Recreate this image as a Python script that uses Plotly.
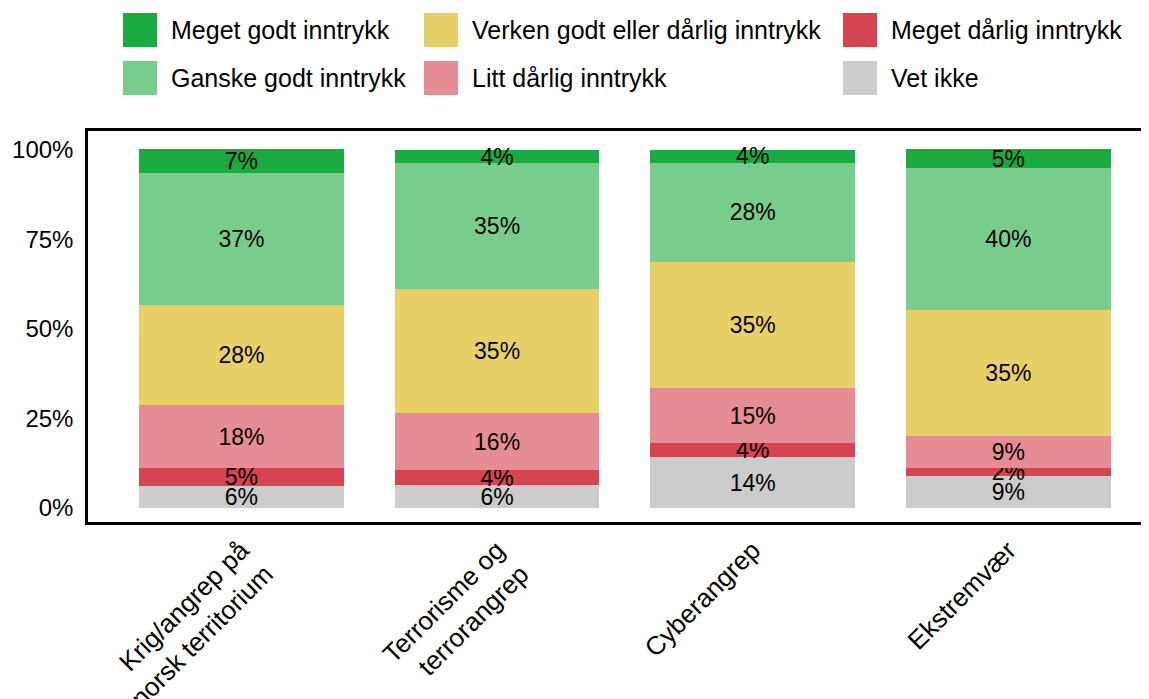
import plotly.graph_objects as go

# categories on the x axis
categories = [
    "Krig/angrep på<br>norsk territorium",
    "Terrorisme og<br>terrorangrep",
    "Cyberangrep",
    "Ekstremvær",
]

# shares in percent, one list per answer (bottom of the stack first)
vet_ikke = [6.1, 6.4, 14.2, 8.9]
meget_darlig = [5.0, 4.2, 3.9, 2.3]
litt_darlig = [17.6, 15.9, 15.4, 8.9]
verken = [28.0, 34.6, 35.2, 35.2]
ganske_godt = [36.9, 35.2, 27.7, 39.6]
meget_godt = [6.7, 3.7, 3.6, 5.3]

y_ticks = [0, 25, 50, 75, 100]
y_tick_labels = ["0%", "25%", "50%", "75%", "100%"]

# stack order, bottom to top
series = [
    ("Vet ikke", vet_ikke, "#CCCCCC"),
    ("Meget dårlig inntrykk", meget_darlig, "#D64452"),
    ("Litt dårlig inntrykk", litt_darlig, "#E68C95"),
    ("Verken godt eller dårlig inntrykk", verken, "#E8D068"),
    ("Ganske godt inntrykk", ganske_godt, "#78CD8D"),
    ("Meget godt inntrykk", meget_godt, "#1AAB40"),
]

# legend layout, read row by row
legend_rows = [
    ["Meget godt inntrykk", "Verken godt eller dårlig inntrykk", "Meget dårlig inntrykk"],
    ["Ganske godt inntrykk", "Litt dårlig inntrykk", "Vet ikke"],
]

FONT = "Liberation Sans, Arial, sans-serif"
OFF = 8  # page margin around the plot div
W, H = 1149 - OFF, 699 - OFF
M_L, M_T, M_B = 88 - OFF, 131 - OFF, 177
PLOT_W = W - M_L
PLOT_H = H - M_T - M_B

fig = go.Figure()
for name, vals, color in series:
    fig.add_trace(
        go.Bar(
            x=categories,
            y=vals,
            name=name,
            marker=dict(color=color, line=dict(width=0)),
            width=0.8,
            texttemplate="%{y:.0f}%",
            textposition="inside",
            insidetextanchor="middle",
            textangle=0,
            constraintext="none",
            textfont=dict(family=FONT, size=23, color="black"),
            showlegend=False,
        )
    )


# screen pixel -> paper coordinates
def px_x(px):
    return (px - OFF - M_L) / PLOT_W


def px_y(py):
    return (H - M_B - (py - OFF)) / PLOT_H


# hand-built legend with big square swatches
colors = {name: color for name, _, color in series}
col_swatch_x = [123, 424, 843]
col_text_x = [171, 472, 891]
row_top = [13, 61]
SW = 34
shapes = []
annotations = []
for r, row in enumerate(legend_rows):
    for c, name in enumerate(row):
        shapes.append(
            dict(
                type="rect",
                xref="paper",
                yref="paper",
                x0=px_x(col_swatch_x[c]),
                x1=px_x(col_swatch_x[c] + SW),
                y0=px_y(row_top[r] + SW),
                y1=px_y(row_top[r]),
                fillcolor=colors[name],
                line=dict(width=0),
            )
        )
        annotations.append(
            dict(
                xref="paper",
                yref="paper",
                x=px_x(col_text_x[c] - 2),
                y=px_y(row_top[r] + SW / 2),
                xanchor="left",
                yanchor="middle",
                text=name,
                showarrow=False,
                font=dict(family=FONT, size=25, color="black"),
            )
        )

fig.update_layout(
    width=W,
    height=H,
    barmode="stack",
    bargap=0.2,
    plot_bgcolor="white",
    paper_bgcolor="white",
    margin=dict(l=M_L, r=0, t=M_T, b=M_B, pad=0, autoexpand=False),
    font=dict(family=FONT, size=22, color="black"),
    shapes=shapes,
    annotations=annotations,
    xaxis=dict(
        range=[-0.6, 3.55],
        automargin=False,
        showline=True,
        linecolor="black",
        linewidth=2.5,
        mirror=True,
        showgrid=False,
        tickangle=-45,
        ticks="",
        tickfont=dict(family=FONT, size=26, color="black"),
    ),
    yaxis=dict(
        range=[-3.9, 105.3],
        automargin=False,
        tickmode="array",
        tickvals=y_ticks,
        ticktext=y_tick_labels,
        showline=True,
        linecolor="black",
        linewidth=2.5,
        mirror=False,
        showgrid=False,
        zeroline=False,
        ticks="",
        ticklabelstandoff=7,
        tickfont=dict(family=FONT, size=24, color="black"),
    ),
)

fig.write_html("out.html")
